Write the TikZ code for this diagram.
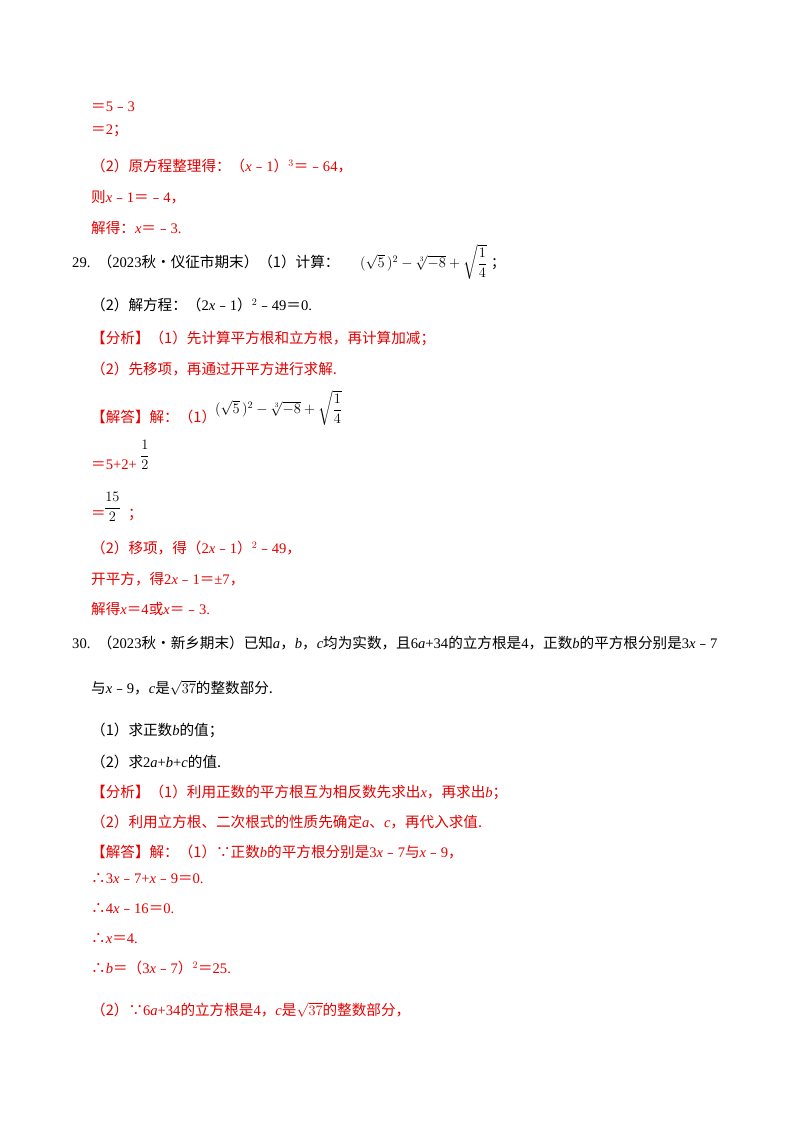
\documentclass[tikz,border=0pt]{standalone}
\usepackage{amsmath}
\usepackage{fontspec}
\setmainfont{Liberation Serif}
\newfontfamily\cjk{Noto Sans CJK SC}
\newcommand\zh[1]{{\cjk #1}}
\newcommand\vx{\textit{x}}
\begin{document}
\begin{tikzpicture}[x=1pt,y=-1pt,
  t/.style={anchor=west,inner sep=0pt,font=\fontsize{14.6}{16}\selectfont},
  r/.style={t,text={rgb,255:red,230;green,0;blue,0}},
  f/.style={anchor=west,inner sep=0pt,font=\fontsize{14}{16}\selectfont\sffamily}]
\useasboundingbox[fill=white] (0,0) rectangle (800,1132);
\node[r] (l1) at (91,107) {\zh{＝}5\zh{﹣}3};
\node[r] (l2) at (91,131) {\zh{＝}2\zh{；}};
\node[r] (l3) at (91,166) {\zh{（2）原方程整理得：（}\vx\zh{﹣}1\zh{）}$^{3}$\zh{＝﹣}64\zh{，}};
\node[r] (l4) at (91,197) {\zh{则}\vx\zh{﹣}1\zh{＝﹣}4\zh{，}};
\node[r] (l5) at (91,228) {\zh{解得：}\vx\zh{＝﹣}3.};
\node[t] (q29) at (72,262) {29.\hspace{0.5em}\zh{（}2023\zh{秋•仪征市期末）（1）计算：}};
\node[f] (fm1) at (360,262) {$(\sqrt{5}\,)^2-\sqrt[3]{-8}+\sqrt{\dfrac14}$\;\zh{；}};
\node[t] (q29b) at (91,305) {\zh{（2）解方程：（}2\vx\zh{﹣}1\zh{）}$^{2}$\zh{﹣}49\zh{＝}0.};
\node[r] (a1) at (91,338) {\zh{【分析】（1）先计算平方根和立方根，再计算加减；}};
\node[r] (a2) at (91,369) {\zh{（2）先移项，再通过开平方进行求解.}};
\node[r] (s1) at (91,417) {\zh{【解答】解：（1）}};
\node[f] (fm2) at (215,408) {$(\sqrt{5}\,)^2-\sqrt[3]{-8}+\sqrt{\dfrac14}$};
\node[r] (s2) at (91,465) {\zh{＝}5+2+};
\node[f] (fr1) at (140,455) {$\dfrac12$};
\node[r] (s3) at (91,515) {\zh{＝}};
\node[f] (fr2) at (104,507) {$\dfrac{15}{2}$};
\node[r] (s3b) at (128,515) {\zh{；}};
\node[r] (s4) at (91,548) {\zh{（2）移项，得（}2\vx\zh{﹣}1\zh{）}$^{2}$\zh{﹣}49\zh{，}};
\node[r] (s5) at (91,579) {\zh{开平方，得}2\vx\zh{﹣}1\zh{＝}±7\zh{，}};
\node[r] (s6) at (91,609) {\zh{解得}\vx\zh{＝}4\zh{或}\vx\zh{＝﹣}3.};
\node[t] (q30) at (72,643) {30.\hspace{0.5em}\zh{（}2023\zh{秋•新乡期末）已知}\textit{a}\zh{，}\textit{b}\zh{，}\textit{c}\zh{均为实数，且}6\textit{a}+34\zh{的立方根是}4\zh{，正数}\textit{b}\zh{的平方根分别是}3\vx\zh{﹣}7};
\node[t] (q30b) at (91,688) {\zh{与}\vx\zh{﹣}9\zh{，}\textit{c}\zh{是}{\sffamily$\sqrt{37}$}\zh{的整数部分.}};
\node[t] (q30c) at (91,730) {\zh{（1）求正数}\textit{b}\zh{的值；}};
\node[t] (q30d) at (91,762) {\zh{（2）求}2\textit{a}+\textit{b}+\textit{c}\zh{的值.}};
\node[r] (b1) at (91,792) {\zh{【分析】（1）利用正数的平方根互为相反数先求出}\vx\zh{，再求出}\textit{b}\zh{；}};
\node[r] (b2) at (91,822) {\zh{（2）利用立方根、二次根式的性质先确定}\textit{a}\zh{、}\textit{c}\zh{，再代入求值.}};
\node[r] (b3) at (91,852) {\zh{【解答】解：（1）∵正数}\textit{b}\zh{的平方根分别是}3\vx\zh{﹣}7\zh{与}\vx\zh{﹣}9\zh{，}};
\node[r] (b4) at (91,879) {\zh{∴}3\vx\zh{﹣}7+\vx\zh{﹣}9\zh{＝}0.};
\node[r] (b5) at (91,909) {\zh{∴}4\vx\zh{﹣}16\zh{＝}0.};
\node[r] (b6) at (91,939) {\zh{∴}\vx\zh{＝}4.};
\node[r] (b7) at (91,968) {\zh{∴}\textit{b}\zh{＝（}3\vx\zh{﹣}7\zh{）}$^{2}$\zh{＝}25.};
\node[r] (b8) at (91,1010) {\zh{（2）∵}6\textit{a}+34\zh{的立方根是}4\zh{，}\textit{c}\zh{是}{\sffamily$\sqrt{37}$}\zh{的整数部分，}};
\end{tikzpicture}
\end{document}
